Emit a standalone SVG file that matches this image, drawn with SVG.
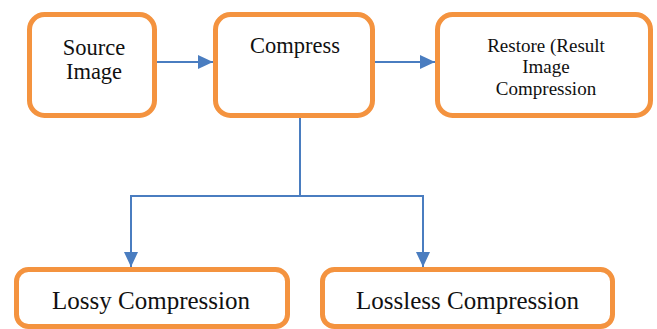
<svg xmlns="http://www.w3.org/2000/svg" width="657" height="329" viewBox="0 0 657 329">
<defs>
<style>
.box{fill:#fff;stroke:#F4933F;stroke-width:5}
.t{font-family:"Liberation Serif","Times New Roman",serif;fill:#111;text-anchor:middle}
.c{fill:none;stroke:#4A7DC0;stroke-width:2}
</style>
<marker id="ah" markerUnits="userSpaceOnUse" markerWidth="16" markerHeight="14" refX="15" refY="7" orient="auto">
<path d="M0,0 L15,7 L0,14 Z" fill="#4A7DC0"/>
</marker>
</defs>
<rect width="657" height="329" fill="#fff"/>
<g id="connectors">
<path class="c" d="M157,62 H213" marker-end="url(#ah)"/>
<path class="c" d="M375,62 H435" marker-end="url(#ah)"/>
<path class="c" d="M300,118 V196"/>
<path class="c" d="M300,196 H131 V267" marker-end="url(#ah)"/>
<path class="c" d="M300,196 H423 V267" marker-end="url(#ah)"/>
</g>
<g id="source">
<rect class="box" x="29.5" y="14.5" width="125" height="101" rx="15"/>
<text class="t" font-size="22.5" x="94" y="55">Source</text>
<text class="t" font-size="22.5" x="94" y="79">Image</text>
</g>
<g id="compress">
<rect class="box" x="215.5" y="14.5" width="157" height="101" rx="15"/>
<text class="t" font-size="22.5" x="295" y="53">Compress</text>
</g>
<g id="restore">
<rect class="box" x="437.5" y="14.5" width="213" height="101" rx="15"/>
<text class="t" font-size="19" x="546" y="52">Restore (Result</text>
<text class="t" font-size="19" x="546" y="73">Image</text>
<text class="t" font-size="19" x="546" y="95">Compression</text>
</g>
<g id="lossy">
<rect class="box" x="16.5" y="269.5" width="271" height="57" rx="12"/>
<text class="t" font-size="25" x="151" y="309">Lossy Compression</text>
</g>
<g id="lossless">
<rect class="box" x="322.5" y="269.5" width="290" height="57" rx="12"/>
<text class="t" font-size="25" x="467.5" y="309">Lossless Compression</text>
</g>
</svg>
